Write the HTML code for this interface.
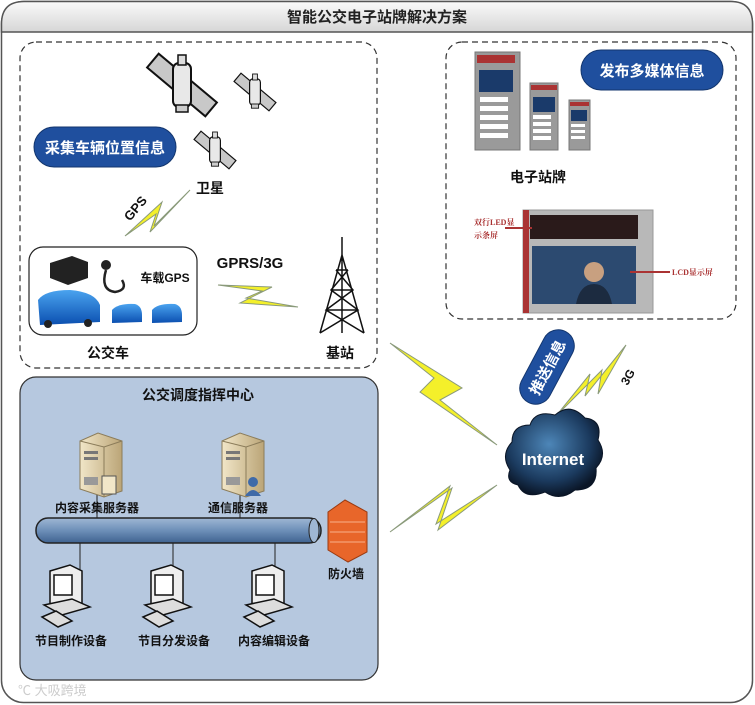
<!DOCTYPE html>
<html><head><meta charset="utf-8"><style>
html,body{margin:0;padding:0;background:#fff;}
svg{display:block;font-family:"Liberation Sans","Noto Sans CJK SC",sans-serif;font-weight:bold;}
</style></head><body>
<svg width="755" height="705" viewBox="0 0 755 705" xmlns="http://www.w3.org/2000/svg">
<defs>
<linearGradient id="hdr" x1="0" y1="0" x2="0" y2="1"><stop offset="0" stop-color="#fafafa"/><stop offset="1" stop-color="#d6d6d6"/></linearGradient>
<linearGradient id="pipe" x1="0" y1="0" x2="0" y2="1"><stop offset="0" stop-color="#9fb7d4"/><stop offset="0.5" stop-color="#6d8fb8"/><stop offset="1" stop-color="#3f6290"/></linearGradient>
<linearGradient id="srv" x1="0" y1="0" x2="1" y2="0"><stop offset="0" stop-color="#f1e6c8"/><stop offset="1" stop-color="#bba577"/></linearGradient>
<radialGradient id="cloud" cx="0.45" cy="0.4" r="0.6"><stop offset="0" stop-color="#4d86b8"/><stop offset="0.7" stop-color="#1b3a5e"/><stop offset="1" stop-color="#0a1526"/></radialGradient>
<linearGradient id="bus" x1="0" y1="0" x2="0" y2="1"><stop offset="0" stop-color="#4aa3ef"/><stop offset="1" stop-color="#0b4fb0"/></linearGradient>
<g id="sat">
 <rect x="-38" y="-9" width="76" height="18" fill="#c8c8c8" stroke="#111" stroke-width="2" transform="rotate(40)"/>
 <rect x="-9" y="-22" width="18" height="44" rx="6" fill="#e8e8e8" stroke="#111" stroke-width="2"/>
 <rect x="-4" y="-30" width="8" height="10" fill="#ddd" stroke="#111" stroke-width="1.5"/>
 <rect x="-6" y="20" width="12" height="7" fill="#ccc" stroke="#111" stroke-width="1.5"/>
</g>
<g id="pc">
 <path d="M8 6 L28 0 L40 6 L40 40 L20 46 L8 40 Z" fill="#eee" stroke="#111" stroke-width="1.5"/>
 <rect x="12" y="10" width="18" height="20" fill="#fff" stroke="#111" stroke-width="1.5"/>
 <path d="M2 40 L30 34 L48 42 L20 50 Z" fill="#ddd" stroke="#111" stroke-width="1.5"/>
 <path d="M0 52 L14 46 L30 56 L16 62 Z" fill="#ddd" stroke="#111" stroke-width="1.5"/>
</g>
<g id="server">
 <path d="M0 8 L18 0 L42 8 L42 58 L24 64 L0 56 Z" fill="url(#srv)" stroke="#8b7c5a" stroke-width="1"/>
 <path d="M0 8 L24 14 L42 8" fill="none" stroke="#8b7c5a"/>
 <line x1="24" y1="14" x2="24" y2="64" stroke="#8b7c5a"/>
 <rect x="4" y="18" width="14" height="3" fill="#777"/><rect x="4" y="24" width="14" height="3" fill="#777"/>
 <rect x="4" y="44" width="14" height="8" fill="#999"/>
</g>
</defs>

<rect x="1.5" y="1.5" width="751" height="701" rx="22" fill="#fff" stroke="#555" stroke-width="1.5"/>
<path d="M1.5 32 L1.5 24 Q1.5 1.5 24 1.5 L731 1.5 Q752.5 1.5 752.5 24 L752.5 32 Z" fill="url(#hdr)" stroke="#555" stroke-width="1.5"/>
<text x="377" y="22" font-size="15" text-anchor="middle" fill="#222">智能公交电子站牌解决方案</text>

<rect x="20" y="42" width="357" height="326" rx="16" fill="none" stroke="#333" stroke-width="1.2" stroke-dasharray="6,4"/>
<rect x="446" y="42" width="290" height="277" rx="16" fill="none" stroke="#333" stroke-width="1.2" stroke-dasharray="6,4"/>

<use href="#sat" transform="translate(182,85)"/>
<use href="#sat" transform="translate(255,92) scale(0.6)"/>
<use href="#sat" transform="translate(215,150) scale(0.6)"/>

<rect x="34" y="127" width="142" height="40" rx="20" fill="#1f4f9e" stroke="#13366e"/>
<text x="105" y="153" font-size="15" text-anchor="middle" fill="#fff">采集车辆位置信息</text>
<rect x="581" y="50" width="142" height="40" rx="20" fill="#1f4f9e" stroke="#13366e"/>
<text x="652" y="76" font-size="15" text-anchor="middle" fill="#fff">发布多媒体信息</text>

<text x="210" y="193" font-size="14" text-anchor="middle" fill="#111">卫星</text>
<text x="135" y="213" font-size="13" text-anchor="middle" fill="#111" transform="rotate(-50 135 208)">GPS</text>
<polygon points="125,236 162,202 154,226 190,190 150,232 156,214" fill="#f4f02a" stroke="#8a9a7a" stroke-width="1"/>

<rect x="29" y="247" width="168" height="88" rx="14" fill="#fff" stroke="#222" stroke-width="1.2"/>
<path d="M50 263 L72 256 L88 262 L88 278 L68 285 L50 278 Z" fill="#222"/>
<circle cx="106" cy="265" r="5" fill="#222"/>
<path d="M106 270 Q100 290 115 292 Q128 290 122 280" fill="none" stroke="#222" stroke-width="2.5"/>
<text x="165" y="282" font-size="12" text-anchor="middle" fill="#111">车载GPS</text>
<path d="M38 300 Q45 290 70 290 Q95 292 100 305 L100 322 L40 325 Z" fill="url(#bus)"/>
<circle cx="48" cy="324" r="4" fill="#222"/><circle cx="88" cy="323" r="4" fill="#222"/>
<path d="M112 310 Q118 303 135 304 Q142 306 142 315 L142 322 L112 323 Z" fill="url(#bus)"/>
<path d="M152 310 Q158 303 175 304 Q182 306 182 315 L182 322 L152 323 Z" fill="url(#bus)"/>
<text x="108" y="358" font-size="14" text-anchor="middle" fill="#111">公交车</text>

<text x="250" y="268" font-size="15" text-anchor="middle" fill="#111">GPRS/3G</text>
<polygon points="218,285 272,287 240,303 298,307 246,298 262,291" fill="#f4f02a" stroke="#8a9a7a"/>

<g stroke="#111" stroke-width="1.5" fill="none">
<line x1="342" y1="237" x2="342" y2="255"/>
<path d="M342 255 L320 333 M342 255 L364 333 M342 255 L342 333"/>
<path d="M336 270 L348 270 M331 290 L353 290 M326 310 L358 310 M336 270 L353 290 L326 310 M348 270 L331 290 L358 310 M331 290 L358 310 L320 333 M353 290 L326 310 L364 333"/>
</g>
<text x="340" y="358" font-size="14" text-anchor="middle" fill="#111">基站</text>

<rect x="475" y="52" width="45" height="98" fill="#9a9a9a" stroke="#777"/>
<rect x="477" y="55" width="38" height="8" fill="#a33"/>
<rect x="479" y="70" width="34" height="22" fill="#1a3a6a"/>
<g fill="#fff"><rect x="480" y="97" width="28" height="5"/><rect x="480" y="106" width="28" height="5"/><rect x="480" y="115" width="28" height="5"/><rect x="480" y="124" width="28" height="5"/><rect x="480" y="133" width="28" height="5"/></g>
<rect x="530" y="83" width="28" height="67" fill="#9a9a9a" stroke="#777"/>
<rect x="531" y="85" width="26" height="5" fill="#a33"/>
<rect x="533" y="97" width="22" height="15" fill="#1a3a6a"/>
<g fill="#fff"><rect x="533" y="115" width="18" height="4"/><rect x="533" y="122" width="18" height="4"/><rect x="533" y="129" width="18" height="4"/><rect x="533" y="136" width="18" height="4"/></g>
<rect x="569" y="100" width="21" height="50" fill="#9a9a9a" stroke="#777"/>
<rect x="570" y="102" width="19" height="4" fill="#a33"/>
<rect x="571" y="110" width="16" height="11" fill="#1a3a6a"/>
<g fill="#fff"><rect x="571" y="124" width="14" height="3"/><rect x="571" y="130" width="14" height="3"/><rect x="571" y="136" width="14" height="3"/></g>
<text x="538" y="182" font-size="14" text-anchor="middle" fill="#111">电子站牌</text>

<rect x="523" y="210" width="130" height="103" fill="#b8b8b8" stroke="#999"/>
<rect x="523" y="210" width="6" height="103" fill="#a33"/>
<rect x="530" y="215" width="108" height="24" fill="#2a1a1a"/>
<rect x="532" y="246" width="104" height="58" fill="#2c4a70"/>
<circle cx="594" cy="272" r="10" fill="#c8a080"/>
<path d="M576 304 Q580 284 594 284 Q608 284 612 304 Z" fill="#1c2b40"/>
<text x="474" y="225" font-size="8" fill="#a33" font-family="Liberation Serif,Noto Serif CJK SC,serif">双行LED显</text>
<text x="474" y="238" font-size="8" fill="#a33" font-family="Liberation Serif,Noto Serif CJK SC,serif">示条屏</text>
<line x1="505" y1="228" x2="532" y2="228" stroke="#a33" stroke-width="2"/>
<line x1="630" y1="272" x2="670" y2="272" stroke="#a33" stroke-width="2"/>
<text x="672" y="275" font-size="8" fill="#a33" font-family="Liberation Serif,Noto Serif CJK SC,serif">LCD显示屏</text>

<g transform="translate(547,367) rotate(-62)">
<rect x="-40" y="-16" width="80" height="32" rx="16" fill="#1f4f9e" stroke="#13366e"/>
<text x="0" y="6" font-size="15" text-anchor="middle" fill="#fff">推送信息</text>
</g>
<polygon points="556,416 590,374 585,396 626,345 598,394 602,370" fill="#f4f02a" stroke="#8a9a7a"/>
<text x="624" y="388" font-size="12" fill="#111" transform="rotate(-60 624 384)">3G</text>

<polygon points="390,343 434,378 420,392 497,445 440,400 462,388" fill="#f4f02a" stroke="#8a9a7a"/>
<polygon points="390,532 452,488 438,530 497,485 436,524 450,486" fill="#f4f02a" stroke="#8a9a7a"/>

<path d="M510 470 Q500 455 512 442 Q512 425 530 425 Q535 410 555 415 Q570 402 585 418 Q603 420 598 440 Q608 455 596 468 Q598 490 575 490 Q560 502 545 492 Q525 500 518 485 Q505 482 510 470 Z" fill="url(#cloud)" stroke="#0a1526"/>
<text x="553" y="465" font-size="17" text-anchor="middle" fill="#fff">Internet</text>

<rect x="20" y="377" width="358" height="303" rx="16" fill="#b6c8df" stroke="#333" stroke-width="1.2"/>
<text x="198" y="400" font-size="14" text-anchor="middle" fill="#111">公交调度指挥中心</text>
<line x1="97" y1="490" x2="97" y2="520" stroke="#222"/>
<line x1="240" y1="490" x2="240" y2="520" stroke="#222"/>
<line x1="80" y1="543" x2="80" y2="572" stroke="#222"/>
<line x1="173" y1="543" x2="173" y2="572" stroke="#222"/>
<line x1="275" y1="543" x2="275" y2="572" stroke="#222"/>
<use href="#server" transform="translate(80,433)"/>
<use href="#server" transform="translate(222,433)"/>
<rect x="102" y="476" width="14" height="18" fill="#f1e6c8" stroke="#555"/>
<circle cx="253" cy="482" r="5" fill="#3f6aa8"/><path d="M245 496 Q253 484 261 496 Z" fill="#3f6aa8"/>
<text x="97" y="512" font-size="12" text-anchor="middle" fill="#111">内容采集服务器</text>
<text x="238" y="512" font-size="12" text-anchor="middle" fill="#111">通信服务器</text>
<rect x="36" y="518" width="285" height="25" rx="12" fill="url(#pipe)" stroke="#222" stroke-width="1.5"/>
<ellipse cx="314" cy="530.5" rx="5" ry="12" fill="#9fb7d4" stroke="#222"/>
<path d="M328 512 L345 500 L367 512 L367 552 L348 562 L328 550 Z" fill="#e8662a" stroke="#9a3a10"/>
<g stroke="#f7b08a" stroke-width="1"><line x1="330" y1="522" x2="365" y2="522"/><line x1="330" y1="532" x2="365" y2="532"/><line x1="330" y1="542" x2="365" y2="542"/></g>
<text x="346" y="578" font-size="12" text-anchor="middle" fill="#111">防火墙</text>
<use href="#pc" transform="translate(42,565)"/>
<use href="#pc" transform="translate(143,565)"/>
<use href="#pc" transform="translate(244,565)"/>
<text x="71" y="645" font-size="12" text-anchor="middle" fill="#111">节目制作设备</text>
<text x="174" y="645" font-size="12" text-anchor="middle" fill="#111">节目分发设备</text>
<text x="274" y="645" font-size="12" text-anchor="middle" fill="#111">内容编辑设备</text>

<text x="18" y="695" font-size="13" fill="#ccc" font-weight="normal">℃ 大吸跨境</text>
</svg>
</body></html>
